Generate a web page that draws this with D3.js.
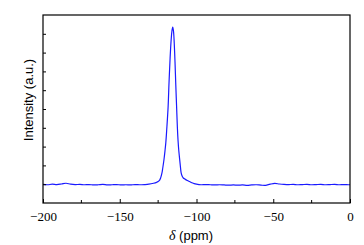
<!DOCTYPE html>
<html>
<head>
<meta charset="utf-8">
<script src="https://cdn.jsdelivr.net/npm/d3@7"></script>
<style>
    body { margin: 0; background: #fff; }
    svg { display: block; }
</style>
</head>
<body>
<svg id="chart" width="364" height="245"></svg>
<script>
// chemical shift (ppm) and intensity (a.u.)
const shift = [
    -200, -197, -194, -191, -188, -185, -182, -179, -176, -173, -170,
    -167, -164, -161, -158, -155, -152, -149, -146, -143, -140, -137,
    -134, -131, -128, -126, -125, -124, -123.3, -122.5, -122, -121.2,
    -120.5, -120, -119.4, -118.5, -117.9, -117.2, -116.5, -116, -115.5,
    -115, -114.5, -114, -113.5, -113, -112.5, -112, -111.5, -111, -110.5,
    -110, -109.3, -108.6, -107.5, -106, -104.5, -103, -101.5, -100, -97,
    -94, -91, -88, -85, -82, -79, -76, -73, -70, -67, -64, -61, -58, -55,
    -52, -49, -46, -43, -40, -37, -34, -31, -28, -25, -22, -19, -16, -13,
    -10, -7, -4, -1, 0
];
const intensity = [
    0.99, 0.97, 1.0, 0.98, 1.01, 1.05, 1.0, 0.98, 0.99, 0.97, 0.98,
    0.96, 0.97, 0.99, 0.96, 0.97, 0.98, 0.96, 0.97, 0.96, 0.98, 0.97,
    0.98, 1.0, 1.05, 1.1, 1.14, 1.22, 1.35, 1.6, 1.85, 2.3,
    2.8, 3.2, 3.9, 5.1, 6.4, 7.7, 8.7, 9.15, 9.36,
    9.15, 8.5, 7.5, 6.3, 5.2, 4.1, 3.3, 2.75, 2.35, 1.95,
    1.6, 1.42, 1.33, 1.27, 1.2, 1.14, 1.08, 1.03, 1.0, 0.97,
    0.98, 0.97, 0.96, 0.97, 0.96, 0.95, 0.96, 0.95, 0.96, 0.94, 0.96, 0.97, 0.95, 0.94,
    1.0, 1.04, 1.01, 0.99, 0.98, 0.99, 0.97, 0.98, 0.99, 0.97, 0.98, 0.99, 0.97, 0.98,
    0.99, 0.97, 0.98, 0.97, 0.97
];

const xTicks = [-200, -150, -100, -50, 0];
const xMinorTicks = [-175, -125, -75, -25];
const yTicks = [1, 2, 3, 4, 5, 6, 7, 8, 9];

const svg = d3.select("#chart");
const plotLeft = 43, plotRight = 350, plotTop = 15, plotBottom = 203;

const x = d3.scaleLinear().domain([-200, 0]).range([plotLeft, plotRight]);
const y = d3.scaleLinear().domain([0, 10]).range([plotBottom, plotTop]);

// spectrum
const points = shift.map(function (s, i) { return [s, intensity[i]]; });
svg.append("path")
    .datum(points)
    .attr("fill", "none")
    .attr("stroke", "#1a1aff")
    .attr("stroke-width", 1.2)
    .attr("d", d3.line()
        .x(function (d) { return x(d[0]); })
        .y(function (d) { return y(d[1]); })
        .curve(d3.curveCatmullRom));

// frame
svg.append("rect")
    .attr("x", plotLeft).attr("y", plotTop)
    .attr("width", plotRight - plotLeft).attr("height", plotBottom - plotTop)
    .attr("fill", "none").attr("stroke", "#000").attr("stroke-width", 1.2);

// x axis, ticks inward
const xAxis = svg.append("g")
    .attr("transform", `translate(0, ${plotBottom})`)
    .call(d3.axisBottom(x).tickValues(xTicks).tickSizeInner(-4).tickSizeOuter(0)
        .tickPadding(9).tickFormat(d3.format("d")));
xAxis.select(".domain").remove();
xAxis.selectAll("text")
    .attr("fill", "#000")
    .style("font-family", "'Liberation Serif', 'Times New Roman', serif")
    .style("font-size", "13px");
svg.append("g")
    .selectAll("line")
    .data(xMinorTicks)
    .join("line")
    .attr("x1", function (d) { return x(d); })
    .attr("x2", function (d) { return x(d); })
    .attr("y1", plotBottom).attr("y2", plotBottom - 3)
    .attr("stroke", "#000");

// y axis, unlabeled inward ticks
const yAxis = svg.append("g")
    .attr("transform", `translate(${plotLeft}, 0)`)
    .call(d3.axisLeft(y).tickValues(yTicks).tickSizeInner(-3).tickSizeOuter(0).tickFormat(""));
yAxis.select(".domain").remove();

// titles
svg.append("text")
    .attr("transform", `translate(33, 100) rotate(-90)`)
    .attr("text-anchor", "middle")
    .style("font-family", "'Liberation Sans', Arial, sans-serif")
    .style("font-size", "13px")
    .text("Intensity (a.u.)");

const xTitle = svg.append("text")
    .attr("x", 191).attr("y", 240)
    .attr("text-anchor", "middle")
    .style("font-family", "'Liberation Sans', Arial, sans-serif")
    .style("font-size", "13px");
xTitle.append("tspan")
    .style("font-family", "'Liberation Serif', 'Times New Roman', serif")
    .style("font-style", "italic")
    .style("font-size", "14px")
    .text("δ");
xTitle.append("tspan").text(" (ppm)");
</script>
</body>
</html>
